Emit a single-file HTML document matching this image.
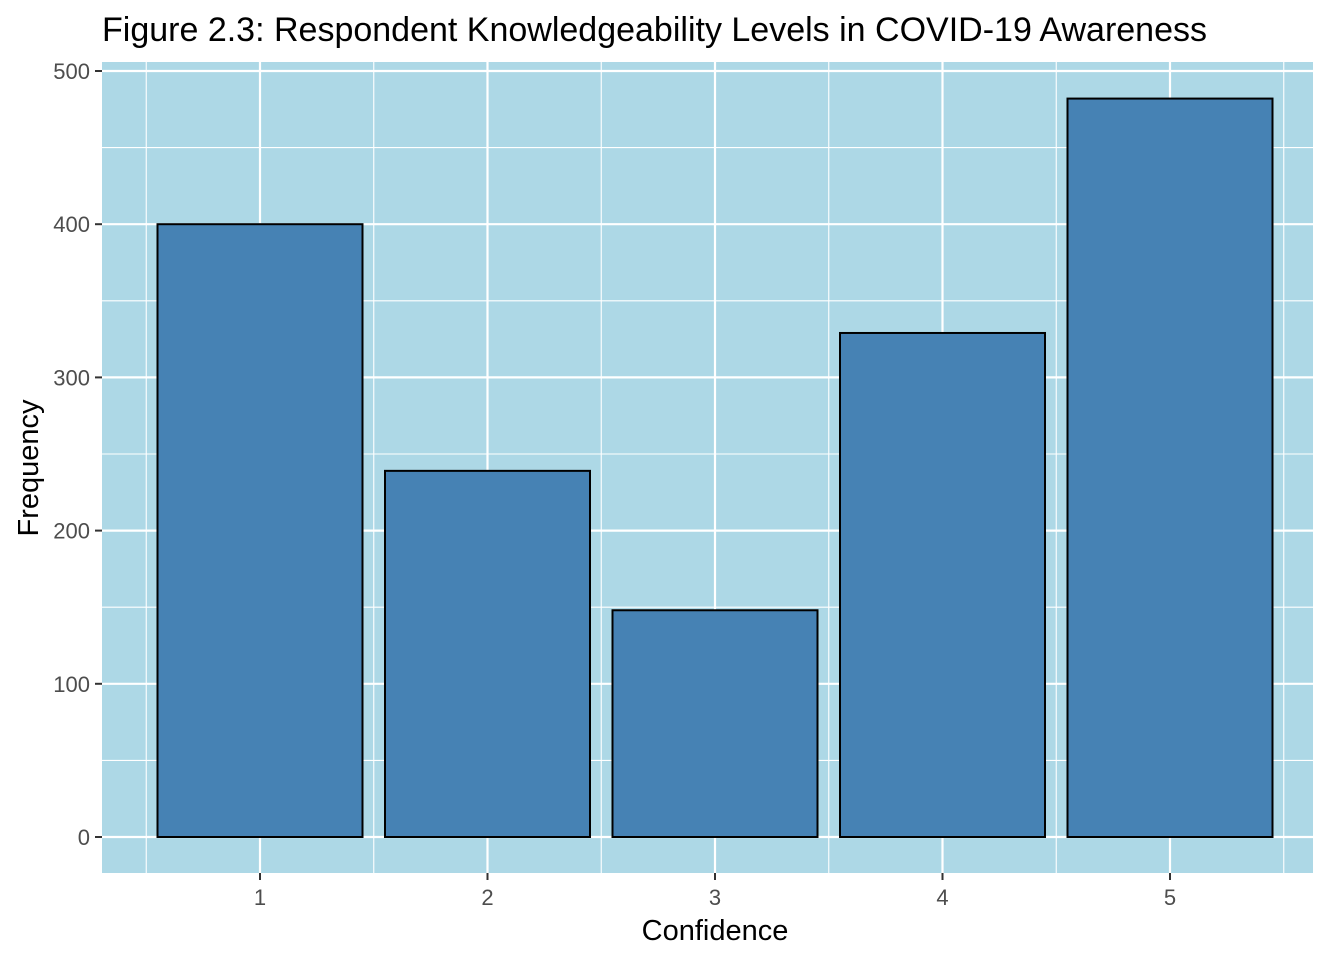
<!DOCTYPE html>
<html><head><meta charset="utf-8"><style>
html,body{margin:0;padding:0;background:#fff;}
svg{display:block;font-family:"Liberation Sans",Arial,sans-serif;}
</style></head><body>
<svg id="chart" width="1344" height="960" viewBox="0 0 1344 960">
<text x="102" y="41" font-size="34" fill="#000">Figure 2.3: Respondent Knowledgeability Levels in COVID-19 Awareness</text>
<rect x="102" y="62" width="1211" height="811" fill="#add8e6"/>
<g id="grid"></g>
<g id="bars"></g>
<g id="axes"></g>
<text x="715" y="940" font-size="29" text-anchor="middle" fill="#000">Confidence</text>
<text transform="translate(38,468) rotate(-90)" font-size="29" text-anchor="middle" fill="#000">Frequency</text>
</svg>
<script>
const categories = ["1","2","3","4","5"];
const values = [400, 239, 148, 329, 482];
const yTicks = [0, 100, 200, 300, 400, 500];
const NS = "http://www.w3.org/2000/svg";
const x0 = 102, x1 = 1313, yBase = 837, pxPer = 1.532;
const step = 227.5, firstCenter = 260;
function xc(i){ return firstCenter + step * i; }
function y(v){ return yBase - v * pxPer; }
function mk(tag, attrs, parent){ const e = document.createElementNS(NS, tag); for (const k in attrs) e.setAttribute(k, attrs[k]); parent.appendChild(e); return e; }
const grid = document.getElementById("grid"), bars = document.getElementById("bars"), axes = document.getElementById("axes");
for (let i = 0; i < yTicks.length - 1; i++) {
  const v = (yTicks[i] + yTicks[i+1]) / 2;
  const l = mk("line", {x1:x0, x2:x1, y1:y(v), y2:y(v), stroke:"#fff", "stroke-width":1.1}, grid);
  
  
}
for (let i = 0; i <= categories.length; i++) {
  const xv = xc(i) - step / 2;
  const l = mk("line", {x1:xv, x2:xv, y1:62, y2:873, stroke:"#fff", "stroke-width":1.1}, grid);
  
  
}
yTicks.forEach(v => {
  const l = mk("line", {x1:x0, x2:x1, y1:y(v), y2:y(v), stroke:"#fff", "stroke-width":2.2}, grid);
  
  
  const t = mk("line", {x1:x0-7, x2:x0, y1:y(v), y2:y(v), stroke:"#333", "stroke-width":2}, axes);
  
  
  const tx = mk("text", {x:x0-12, y:y(v)+8, "font-size":22, "text-anchor":"end", fill:"#4d4d4d"}, axes);
  tx.textContent = v;
  
  
});
categories.forEach((c, i) => {
  const cx = xc(i);
  const l = mk("line", {x1:cx, x2:cx, y1:62, y2:873, stroke:"#fff", "stroke-width":2.2}, grid);
  
  
  const w = 205;
  const b = mk("rect", {x:cx - w/2, y:y(values[i]), width:w, height:yBase - y(values[i]), fill:"#4682b4", stroke:"#000", "stroke-width":2}, bars);
  
  
  const t = mk("line", {x1:cx, x2:cx, y1:873, y2:880, stroke:"#333", "stroke-width":2}, axes);
  
  
  const tx = mk("text", {x:cx, y:905, "font-size":22, "text-anchor":"middle", fill:"#4d4d4d"}, axes);
  tx.textContent = c;
  
  
});
</script>
</body></html>
